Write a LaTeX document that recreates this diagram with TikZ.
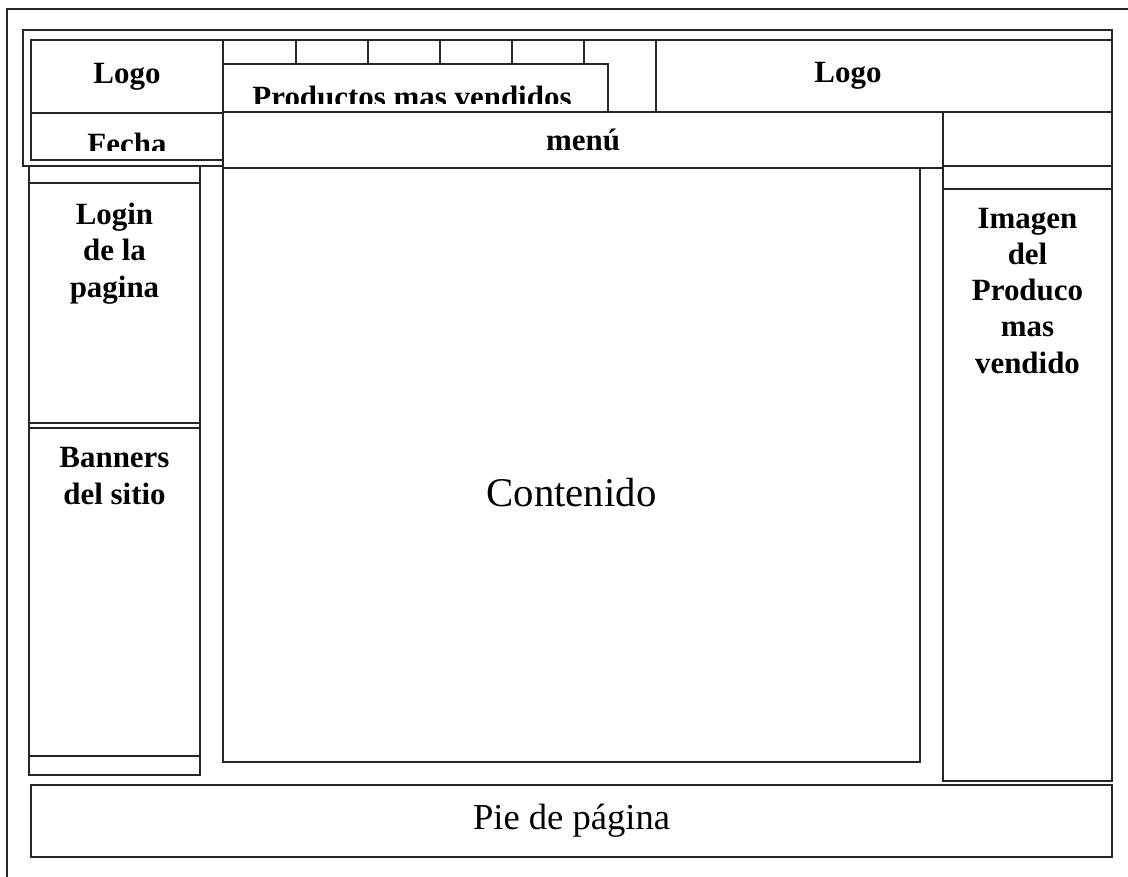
\documentclass[tikz,border=0pt]{standalone}
\usepackage{fontspec}
\setmainfont{Liberation Serif}
\usetikzlibrary{positioning, fit}

\begin{document}
\begin{tikzpicture}[
    x=0.025cm, y=-0.025cm,
    caja/.style={rectangle, draw=black!85, line width=0.9pt, fill=white, inner sep=0pt},
    etiq/.style={font={\fontsize{22}{25.8}\selectfont\bfseries}, align=center, inner sep=0pt},
    grande/.style={font={\fontsize{29}{34}\selectfont}, inner sep=0pt},
    linea/.style={draw=black!85, line width=0.9pt}
]
\useasboundingbox[fill=white] (0,0) rectangle (1128,876);

% marco exterior
\draw[linea] (7,9) rectangle (1160,900);

% cabecera
\node[caja, fit={(23,30) (1112,166)}] (cabecera) {};
\node[caja, fit={(31,40) (223,113)}] (logoA) {};
\node[caja, fit={(31,113) (223,160)}] (fecha) {};
\node[caja, fit={(223,40) (656,112)}] (pestanas) {};
\foreach \x in {296,368,440,512,584}
    \draw[linea] (\x,40) -- (\x,64);
\node[caja, fit={(223,64) (608,112)}] (productos) {};
\node[caja, fit={(656,40) (1112,112)}] (logoB) {};

% columnas
\node[caja, fit={(29,166) (200,775)}] (izq) {};
\node[caja, fit={(29,183) (200,423)}] (login) {};
\node[caja, fit={(29,428) (200,756)}] (banners) {};
\node[caja, fit={(223,168) (920,762)}] (contenido) {};
\node[caja, fit={(223,112) (943,168)}] (menu) {};
\node[caja, fit={(943,112) (1112,166)}] (extra) {};
\node[caja, fit={(943,166) (1112,781)}] (der) {};
\node[caja, fit={(943,189) (1112,781)}] (imagen) {};

% pie
\node[caja, fit={(31,785) (1112,857)}] (pie) {};

% textos
\node[etiq] at (logoA.center) {Logo};
\begin{scope}
    \clip (31,113) rectangle (223,150);
    \node[etiq, anchor=base] (tfecha) at (127,154) {Fecha};
\end{scope}
\begin{scope}
    \clip (223,64) rectangle (608,103);
    \node[etiq, anchor=base] (tprod) at (412,107) {Productos mas vendidos};
\end{scope}
\node[etiq, xshift=-0.9cm] (tlogoB) at (logoB.center) {Logo};
\node[etiq] (tmenu) at (menu.center) {menú};
\node[etiq, below=0.51cm of login.north] (tlogin) {Login\\de la\\pagina};
\node[etiq, below=0.5cm of banners.north] (tbanners) {Banners\\del sitio};
\node[etiq, below=0.48cm of imagen.north] (timagen) {Imagen\\del\\Produco\\mas\\vendido};
\node[grande, yshift=-0.7cm] (tcont) at (contenido.center) {Contenido};
\node[font={\fontsize{26}{30}\selectfont}, inner sep=0pt] (tpie) at (pie.center) {Pie de página};

\end{tikzpicture}
\end{document}
